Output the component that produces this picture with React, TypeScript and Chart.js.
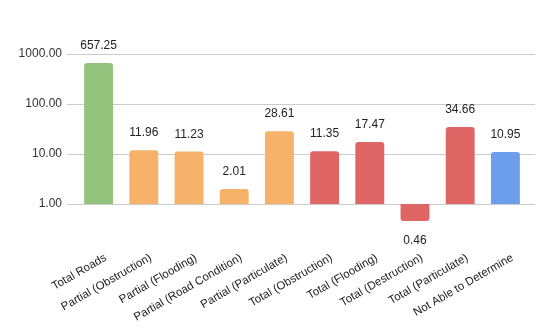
import React, { useEffect, useRef } from "react";
import { Chart, registerables } from "chart.js";

Chart.register(...registerables);

const categories = [
  "Total Roads",
  "Partial (Obstruction)",
  "Partial (Flooding)",
  "Partial (Road Condition)",
  "Partial (Particulate)",
  "Total (Obstruction)",
  "Total (Flooding)",
  "Total (Destruction)",
  "Total (Particulate)",
  "Not Able to Determine",
];
const values = [657.25, 11.96, 11.23, 2.01, 28.61, 11.35, 17.47, 0.46, 34.66, 10.95];
const barColors = [
  "#93c47d",
  "#f6b26b",
  "#f6b26b",
  "#f6b26b",
  "#f6b26b",
  "#e06666",
  "#e06666",
  "#e06666",
  "#e06666",
  "#6d9eeb",
];
const yTicks = [1, 10, 100, 1000];

const FONT = "'Liberation Sans', Arial, sans-serif";

const gridPlugin = {
  id: "customGrid",
  beforeDatasetsDraw(chart: any) {
    const { ctx, chartArea, scales } = chart;
    const y = scales.y;
    ctx.save();
    ctx.strokeStyle = "#cccccc";
    ctx.lineWidth = 1;
    for (const t of yTicks) {
      const py = Math.round(y.getPixelForValue(t)) + 0.5;
      ctx.beginPath();
      ctx.moveTo(chartArea.left - 9, py);
      ctx.lineTo(chartArea.right + 7, py);
      ctx.stroke();
    }
    ctx.restore();
  },
};

const labelPlugin = {
  id: "valueLabels",
  afterDatasetsDraw(chart: any) {
    const { ctx } = chart;
    const meta = chart.getDatasetMeta(0);
    ctx.save();
    ctx.font = `12px ${FONT}`;
    ctx.fillStyle = "#222222";
    ctx.textAlign = "center";
    ctx.textBaseline = "alphabetic";
    meta.data.forEach((bar: any, i: number) => {
      const v = values[i];
      const label = v.toFixed(2);
      if (v >= 1) {
        ctx.fillText(label, bar.x, bar.y - 14);
      } else {
        ctx.fillText(label, bar.x, bar.y + 23);
      }
    });
    ctx.restore();
  },
};

export default function App() {
  const ref = useRef<HTMLCanvasElement>(null);
  useEffect(() => {
    const chart = new Chart(ref.current as HTMLCanvasElement, {
      type: "bar",
      data: {
        labels: categories,
        datasets: [
          {
            data: values,
            backgroundColor: barColors,
            base: 1,
            borderRadius: 3,
            borderSkipped: "start",
            barPercentage: 0.64,
            categoryPercentage: 1,
          } as any,
        ],
      },
      options: {
        animation: false,
        responsive: false,
        maintainAspectRatio: false,
        layout: { padding: { top: 54, right: 24, left: 0, bottom: 0 } },
        plugins: {
          legend: { display: false },
          tooltip: { enabled: false },
        },
        scales: {
          x: {
            grid: { display: false, drawTicks: false },
            border: { display: false },
            afterFit(scale: any) {
              scale.height = 96;
            },
            ticks: {
              font: { family: FONT, size: 11.5 },
              color: "#222222",
              maxRotation: 30,
              minRotation: 30,
              autoSkip: false,
              padding: 12,
              labelOffset: 7,
            },
          },
          y: {
            type: "logarithmic",
            min: 0.2,
            max: 1000,
            grid: { display: false, drawTicks: false },
            border: { display: false },
            afterBuildTicks(scale: any) {
              scale.ticks = yTicks.map((v) => ({ value: v, major: true }));
            },
            afterFit(scale: any) {
              scale.width = 76;
            },
            ticks: {
              font: { family: FONT, size: 12 },
              color: "#333333",
              padding: 14,
              callback: (v: any) => Number(v).toFixed(2),
            },
          },
        },
      },
      plugins: [gridPlugin, labelPlugin],
    });
    return () => chart.destroy();
  }, []);
  return (
    <div style={{ position: "fixed", left: 0, top: 0, width: 552, height: 335, background: "#fff" }}>
      <canvas ref={ref} width={552} height={335} />
    </div>
  );
}
